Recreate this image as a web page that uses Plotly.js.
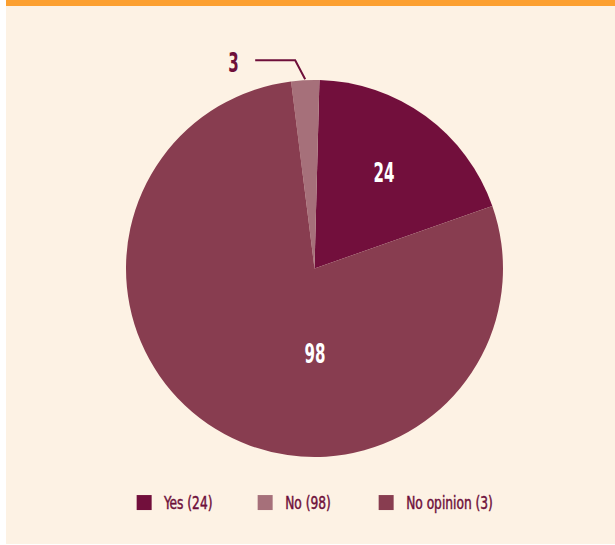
<!DOCTYPE html>
<html>
<head>
<meta charset="utf-8">
<script src="https://cdn.plot.ly/plotly-3.0.1.min.js"></script>
<style>
html,body{margin:0;padding:0;background:#ffffff;}
#chart{width:615px;height:545px;}
#chart svg text{font-stretch:condensed !important;}
#chart text.annotation-text{transform-box:fill-box;transform-origin:50% 50%;transform:scaleX(0.62);}
#chart text.legendtext{transform-box:fill-box;transform-origin:0% 50%;transform:scaleX(0.8);stroke:#6e0f3a;stroke-width:0.45px;}
#chart path.legendpie{transform:translate(20px,0px) scale(1.25);}
#chart g.legend g.scrollbox{clip-path:none !important;}
</style>
</head>
<body>
<div id="chart"></div>
<script>
// ---- data ----
const legendLabels = ['Yes (24)', 'No (98)', 'No opinion (3)'];
const values = [24, 3, 98];
const sliceText = ['24', '3', '98'];
const sliceColors = ['#720f3c', '#a6707a', '#883d50'];

// ---- layout constants ----
const W = 615, H = 545;
const FONT = '"DejaVu Sans Condensed", "DejaVu Sans", sans-serif';
const TXT = '#6e0f3a';
const pieBox = {x0: 126, x1: 503, y0: 80, y1: 457}; // px
const rotation = 1.5;
const px2x = p => p / W;
const py2y = p => 1 - p / H;

const cx = (pieBox.x0 + pieBox.x1) / 2;
const cy = (pieBox.y0 + pieBox.y1) / 2;
const R = Math.min(pieBox.x1 - pieBox.x0, pieBox.y1 - pieBox.y0) / 2;

// slice mid angles (clockwise from 12 o'clock); plotly counterclockwise: first slice ends at rotation
const total = values.reduce((a, b) => a + b, 0);
const mids = [];
let a = rotation + values[0] / total * 360;
values.forEach(v => {
  const span = v / total * 360;
  mids.push(a - span / 2);
  a -= span;
});
const polar = (ang, r) => [cx + r * Math.sin(ang * Math.PI / 180), cy - r * Math.cos(ang * Math.PI / 180)];

// label positions
const pYes = polar(mids[0], 0.63 * R);
const pBig = [cx, cy + 0.45 * R];
const edge = polar(mids[1], R + 1);
const elbow = [edge[0] - 10, edge[1] - 19];
const lineEnd = [elbow[0] - 40, elbow[1]];
const pSmall = [lineEnd[0] - 22, lineEnd[1] + 2];

const trace = {
  type: 'pie',
  labels: legendLabels,
  values: values,
  sort: false,
  direction: 'counterclockwise',
  rotation: rotation,
  marker: {colors: sliceColors, line: {width: 0}},
  textinfo: 'none',
  hoverinfo: 'label+value',
  domain: {x: [px2x(pieBox.x0), px2x(pieBox.x1)], y: [py2y(pieBox.y1), py2y(pieBox.y0)]}
};

const numFont = c => ({family: FONT, size: 27, color: c, weight: 'bold'});

const layout = {
  width: W, height: H,
  margin: {l: 0, r: 0, t: 0, b: 0},
  paper_bgcolor: '#ffffff',
  font: {family: FONT, color: TXT},
  showlegend: true,
  legend: {
    orientation: 'h', x: 0.497, xanchor: 'center', y: py2y(503), yanchor: 'middle',
    font: {family: FONT, size: 17, color: TXT}, bgcolor: 'rgba(0,0,0,0)',
    entrywidth: 76, entrywidthmode: 'pixels',
    traceorder: 'normal', itemclick: false
  },
  shapes: [
    {type: 'rect', xref: 'paper', yref: 'paper', x0: px2x(6), x1: 1, y0: py2y(544), y1: py2y(6),
     fillcolor: '#fdf2e4', line: {width: 0}, layer: 'below'},
    {type: 'rect', xref: 'paper', yref: 'paper', x0: px2x(6), x1: 1, y0: py2y(6), y1: 1,
     fillcolor: '#fca031', line: {width: 0}, layer: 'below'},
    {type: 'path', xref: 'paper', yref: 'paper', layer: 'above',
     path: 'M' + px2x(lineEnd[0]) + ',' + py2y(lineEnd[1]) + ' L' + px2x(elbow[0]) + ',' + py2y(elbow[1]) +
           ' L' + px2x(edge[0]) + ',' + py2y(edge[1]),
     line: {color: TXT, width: 2}}
  ],
  annotations: [
    {xref: 'paper', yref: 'paper', x: px2x(pYes[0]), y: py2y(pYes[1]), text: sliceText[0],
     showarrow: false, font: numFont('#ffffff'), xanchor: 'center', yanchor: 'middle'},
    {xref: 'paper', yref: 'paper', x: px2x(pBig[0]), y: py2y(pBig[1]), text: sliceText[2],
     showarrow: false, font: numFont('#ffffff'), xanchor: 'center', yanchor: 'middle'},
    {xref: 'paper', yref: 'paper', x: px2x(pSmall[0]), y: py2y(pSmall[1]), text: sliceText[1],
     showarrow: false, font: numFont(TXT), xanchor: 'center', yanchor: 'middle'}
  ]
};

Plotly.newPlot('chart', [trace], layout, {displayModeBar: false, staticPlot: true});
</script>
</body>
</html>
